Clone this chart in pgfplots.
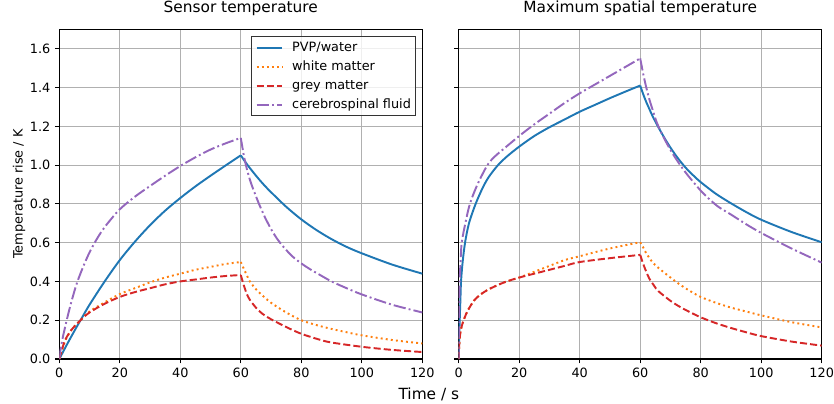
\documentclass[border=0pt]{standalone}
\usepackage{fontspec}
\setmainfont{DejaVu Sans}
\usepackage{pgfplots}
\pgfplotsset{compat=1.18}
\definecolor{c1}{HTML}{1F77B4}
\definecolor{c2}{HTML}{FF7F0E}
\definecolor{c3}{HTML}{D62728}
\definecolor{c4}{HTML}{9467BD}
\definecolor{gridc}{HTML}{B0B0B0}
\pgfplotsset{
  pvp/.style={color=c1, line width=1.5pt, solid, smooth, tension=0.5},
  wm/.style={color=c2, line width=1.5pt, dash pattern=on 1.5pt off 2.475pt, smooth, tension=0.5},
  gm/.style={color=c3, line width=1.5pt, dash pattern=on 5.55pt off 2.4pt, smooth, tension=0.5},
  csf/.style={color=c4, line width=1.5pt, dash pattern=on 9.6pt off 2.4pt on 1.5pt off 2.4pt, smooth, tension=0.5},
  myaxis/.style={
    scale only axis, width=283.14pt, height=257.17pt,
    xmin=0, xmax=120, ymin=0, ymax=1.7,
    xtick={0,20,40,60,80,100,120},
    ytick={0,0.2,0.4,0.6,0.8,1.0,1.2,1.4,1.6},
    grid=major, grid style={color=gridc, line width=0.8pt},
    axis line style={line width=0.8pt, black},
    tick align=outside, tick pos=left, major tick length=3.5pt,
    every tick/.style={black, line width=0.8pt},
    tick label style={font=\fontsize{10}{12}\selectfont},
    yticklabel style={/pgf/number format/fixed, /pgf/number format/fixed zerofill, /pgf/number format/precision=1},
    /pgf/number format/assume math mode=true,
    title style={font=\fontsize{12}{14}\selectfont, yshift=1.4pt},
    legend image code/.code={\draw[#1] (0pt,0pt) -- (20pt,0pt);},
  },
}
\begin{document}
\begin{tikzpicture}
% left axis
\begin{axis}[myaxis, at={(46.25pt,34.32pt)}, anchor=south west,
  title={Sensor temperature},
  ylabel={Temperature rise / K},
  ylabel style={font=\fontsize{10}{12}\selectfont, at={(axis description cs:-0.111,0.5)}, anchor=center},
  legend cell align=left,
  legend style={at={(axis description cs:1,1)}, anchor=north east, xshift=-5pt, yshift=-5pt,
    draw=black!80, line width=0.8pt, fill=white, fill opacity=0.8, text opacity=1, draw opacity=1,
    font=\fontsize{10}{12}\selectfont, inner xsep=3.5pt, inner ysep=4pt, row sep=5pt,
    nodes={inner sep=0pt, text height=7.6pt, text depth=2.2pt},
    /tikz/every odd column/.append style={column sep=7pt}},
]
\addplot[pvp] coordinates {(0,0)(2.5,0.074)(5,0.145)(7.5,0.213)(10,0.28)(15,0.4)(20,0.51)(25,0.605)(30,0.69)(35,0.765)(40,0.83)(45,0.89)(50,0.945)(55,0.998)(60,1.05)};
\addlegendentry{PVP/water}
\addplot[wm] coordinates {(0,0)(1,0.05)(2,0.095)(4,0.15)(7,0.2)(10,0.245)(15,0.292)(20,0.335)(25,0.365)(30,0.395)(35,0.42)(40,0.44)(45,0.46)(50,0.475)(55,0.49)(60,0.50)};
\addlegendentry{white matter}
\addplot[gm] coordinates {(0,0)(1,0.055)(2,0.1)(4,0.15)(7,0.2)(10,0.24)(15,0.285)(20,0.32)(25,0.345)(30,0.365)(35,0.385)(40,0.40)(45,0.41)(50,0.42)(55,0.428)(60,0.433)};
\addlegendentry{grey matter}
\addplot[csf] coordinates {(0,0)(0.5,0.055)(1,0.1)(2,0.17)(3,0.235)(4,0.295)(5,0.35)(6,0.4)(8,0.48)(10,0.55)(12,0.608)(14,0.658)(16,0.7)(20,0.772)(25,0.837)(30,0.892)(35,0.945)(40,0.995)(45,1.04)(50,1.08)(55,1.112)(60,1.14)};
\addlegendentry{cerebrospinal fluid}
\addplot[pvp, forget plot] coordinates {(60,1.05)(62,1.005)(64,0.965)(66,0.927)(68,0.892)(70,0.86)(75,0.785)(80,0.72)(85,0.665)(90,0.618)(95,0.578)(100,0.545)(110,0.487)(120,0.44)};
\addplot[wm, forget plot] coordinates {(60,0.5)(61,0.465)(62,0.432)(63,0.40)(65,0.36)(67,0.33)(70,0.29)(75,0.24)(80,0.2)(85,0.175)(90,0.155)(95,0.138)(100,0.122)(110,0.098)(120,0.08)};
\addplot[gm, forget plot] coordinates {(60,0.433)(61,0.38)(62,0.335)(63,0.305)(65,0.265)(67,0.235)(70,0.205)(75,0.165)(80,0.13)(86,0.1)(90,0.085)(100,0.063)(110,0.047)(120,0.036)};
\addplot[csf, forget plot] coordinates {(60,1.14)(61,1.05)(62,0.98)(63,0.925)(64,0.88)(65,0.84)(66,0.80)(67,0.765)(68,0.73)(70,0.67)(72,0.62)(74,0.58)(77,0.53)(80,0.493)(83,0.462)(86,0.435)(90,0.40)(95,0.365)(100,0.333)(110,0.28)(120,0.24)};
\end{axis}
% right axis
\begin{axis}[myaxis, at={(357.79pt,34.32pt)}, anchor=south west,
  title={Maximum spatial temperature},
  yticklabels={},
]
\addplot[pvp] coordinates {(0,0)(0.15,0.1)(0.33,0.2)(0.55,0.3)(0.77,0.4)(1.3,0.5)(2.1,0.6)(3.4,0.7)(5.6,0.8)(8,0.885)(10,0.94)(13,1.0)(16,1.045)(20,1.095)(25,1.15)(30,1.195)(35,1.235)(40,1.275)(45,1.31)(50,1.345)(55,1.378)(60,1.41)};
\addplot[wm] coordinates {(0,0)(0.2,0.08)(0.5,0.13)(1,0.17)(2,0.215)(3,0.25)(5,0.3)(7,0.33)(10,0.36)(15,0.395)(20,0.42)(25,0.45)(30,0.48)(35,0.51)(40,0.53)(50,0.57)(60,0.602)};
\addplot[gm] coordinates {(0,0)(0.2,0.08)(0.5,0.13)(1,0.17)(2,0.215)(3,0.25)(5,0.3)(7,0.33)(10,0.36)(15,0.395)(20,0.42)(25,0.44)(30,0.46)(35,0.48)(40,0.5)(50,0.52)(60,0.537)};
\addplot[csf] coordinates {(0,0)(0.1,0.2)(0.33,0.4)(0.6,0.5)(1.0,0.6)(2.2,0.7)(3.7,0.8)(6.2,0.9)(9.5,1.0)(12,1.045)(15,1.085)(20,1.15)(25,1.21)(30,1.265)(35,1.32)(40,1.37)(45,1.415)(50,1.46)(55,1.505)(60,1.55)};
\addplot[pvp] coordinates {(60,1.41)(61,1.365)(62,1.325)(63,1.29)(64,1.255)(65,1.225)(66,1.195)(68,1.14)(70,1.09)(72,1.045)(74,1.005)(76,0.97)(78,0.94)(80,0.912)(85,0.852)(90,0.803)(95,0.758)(100,0.718)(110,0.655)(120,0.602)};
\addplot[wm] coordinates {(60,0.602)(61,0.575)(62,0.545)(64,0.5)(66,0.47)(70,0.42)(73,0.385)(76,0.355)(80,0.32)(85,0.29)(90,0.265)(95,0.245)(100,0.225)(110,0.19)(120,0.163)};
\addplot[gm] coordinates {(60,0.537)(61,0.49)(62,0.45)(63,0.415)(64.5,0.38)(66,0.35)(70,0.3)(73,0.27)(76,0.245)(80,0.215)(85,0.185)(90,0.16)(95,0.138)(100,0.118)(110,0.09)(120,0.069)};
\addplot[csf] coordinates {(60,1.55)(61,1.47)(62,1.4)(63,1.34)(64,1.29)(65,1.24)(66,1.2)(68,1.135)(70,1.078)(72,1.028)(74,0.983)(76,0.942)(80,0.868)(83,0.822)(86,0.783)(90,0.745)(95,0.695)(100,0.65)(110,0.57)(120,0.497)};
\end{axis}
\node[anchor=base, font=\fontsize{12}{14}\selectfont, inner sep=0pt] at (334.5pt,3.12pt) {Time / s};
\pgfresetboundingbox
\path (0pt,0pt) rectangle (650.52pt,314.34pt);
\end{tikzpicture}
\end{document}
